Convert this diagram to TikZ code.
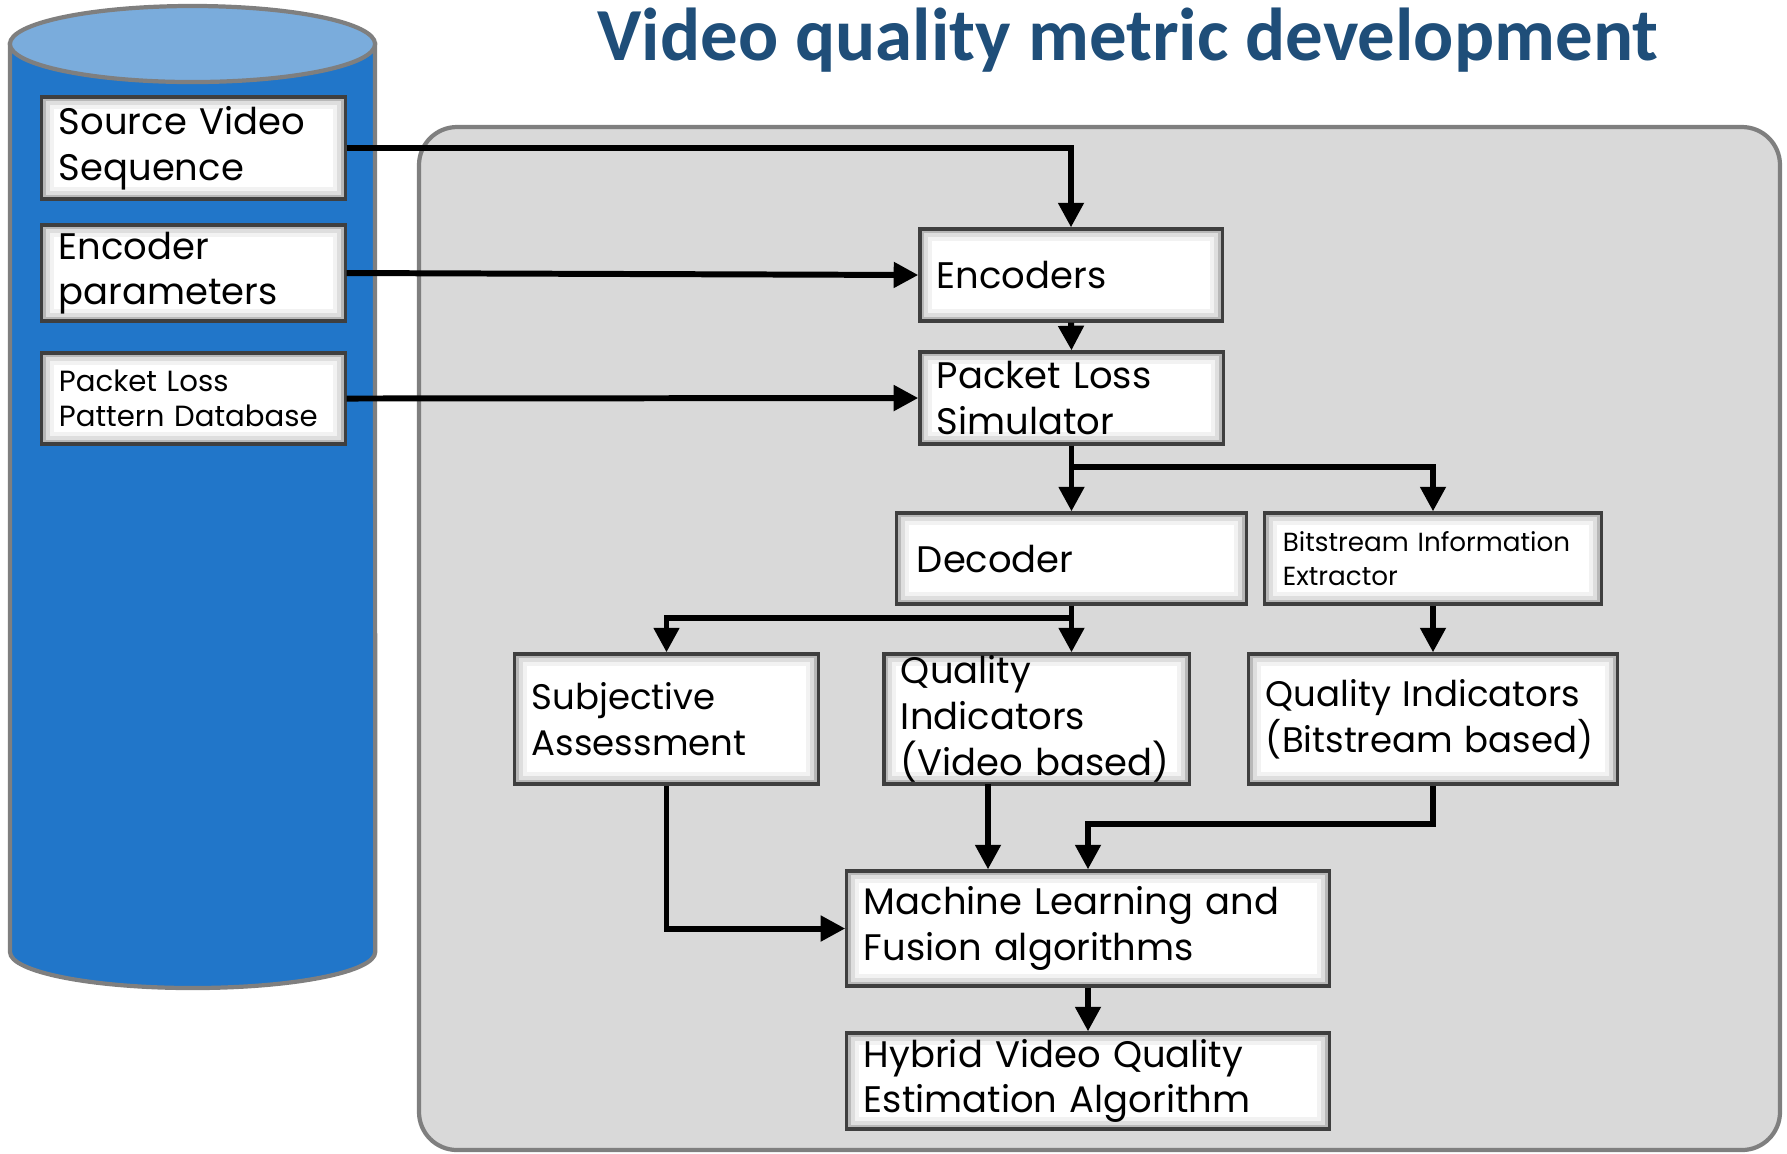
\documentclass[tikz,border=0pt]{standalone}
\usepackage{fontspec}
\newfontfamily\boxfont{Poppins}
\newfontfamily\titlefont{Carlito}
\usetikzlibrary{arrows.meta,calc}
\definecolor{cylside}{HTML}{2176C9}
\definecolor{cyltop}{HTML}{7AACDC}
\definecolor{cyledge}{HTML}{7F7F7F}
\definecolor{panel}{HTML}{D9D9D9}
\definecolor{paneledge}{HTML}{7F7F7F}
\definecolor{titleblue}{HTML}{1F4E79}
\definecolor{boxedge}{HTML}{3F3F3F}
\begin{document}
\begin{tikzpicture}[x=0.01cm,y=-0.01cm,
  box/.style={draw=boxedge, line width=0.9pt, fill=white, inner xsep=0pt, inner ysep=0pt,
    align=left, font=\boxfont\fontsize{10.5}{13}\selectfont,
    path picture={
      \draw[black!5, line width=7pt] (path picture bounding box.south west) rectangle (path picture bounding box.north east);
      \draw[black!13, line width=4.5pt] (path picture bounding box.south west) rectangle (path picture bounding box.north east);
      \draw[black!28, line width=2.2pt] (path picture bounding box.south west) rectangle (path picture bounding box.north east);
    }},
  arr/.style={line width=1.7pt, -{Triangle[length=7pt,width=7pt]}}
]
\useasboundingbox (0,0) rectangle (1787,1153);
% panel
\draw[fill=panel, draw=paneledge, line width=1.2pt, rounded corners=0.38cm] (419,127) rectangle (1780,1150);
% cylinder
\path[fill=cylside, draw=cyledge, line width=1.2pt] (10,44) -- (10,952) arc[start angle=180, end angle=360, x radius=1.825cm, y radius=0.36cm] -- (375,44) -- cycle;
\draw[fill=cyltop, draw=cyledge, line width=1.2pt] (192.5,44) ellipse [x radius=1.825cm, y radius=0.38cm];
% title
\node[font=\titlefont\bfseries\fontsize{21.3}{26}\selectfont, text=titleblue] (title) at (1128,40) {Video quality metric development};
% source boxes
\node[box, minimum width=3.03cm, minimum height=1.02cm, text width=2.69cm] (src) at (193.5,148) {\mbox{Source Video}\\\mbox{Sequence}};
\node[box, minimum width=3.03cm, minimum height=0.96cm, text width=2.69cm] (par) at (193.5,273) {\mbox{Encoder}\\\mbox{parameters}};
\node[box, minimum width=3.03cm, minimum height=0.91cm, text width=2.69cm, font=\boxfont\fontsize{8.3}{10}\selectfont] (pld) at (193.5,398.5) {\mbox{Packet Loss}\\\mbox{Pattern Database}};
% process boxes
\node[box, minimum width=3.02cm, minimum height=0.92cm, text width=2.68cm] (enc) at (1071,275) {\mbox{Encoders}};
\node[box, minimum width=3.03cm, minimum height=0.92cm, text width=2.69cm] (sim) at (1071.5,398) {\mbox{Packet Loss}\\\mbox{Simulator}};
\node[box, minimum width=3.49cm, minimum height=0.91cm, text width=3.09cm] (dec) at (1071.5,558.5) {\mbox{Decoder}};
\node[box, minimum width=3.36cm, minimum height=0.91cm, text width=3.00cm, font=\boxfont\fontsize{7.45}{9.6}\selectfont] (bie) at (1433,558.5) {\mbox{Bitstream Information}\\\mbox{Extractor}};
\node[box, minimum width=3.03cm, minimum height=1.30cm, text width=2.69cm, font=\boxfont\fontsize{10.1}{13}\selectfont] (subj) at (666.5,719) {\mbox{Subjective}\\\mbox{Assessment}};
\node[box, minimum width=3.05cm, minimum height=1.30cm, text width=2.71cm] (qiv) at (1036.5,719) {\mbox{Quality}\\\mbox{Indicators}\\\mbox{(Video based)}};
\node[box, minimum width=3.68cm, minimum height=1.30cm, text width=3.34cm, font=\boxfont\fontsize{10.1}{13}\selectfont] (qib) at (1433,719) {\mbox{Quality Indicators}\\\mbox{(Bitstream based)}};
\node[box, minimum width=4.82cm, minimum height=1.15cm, text width=4.48cm] (ml) at (1088,928.5) {\mbox{Machine Learning and}\\\mbox{Fusion algorithms}};
\node[box, minimum width=4.82cm, minimum height=0.96cm, text width=4.48cm] (hyb) at (1088,1081) {\mbox{Hybrid Video Quality}\\\mbox{Estimation Algorithm}};
% junction coordinates
\coordinate (jsim) at (1071.5,467);
\coordinate (jdec) at (1071.5,618);
\coordinate (jqib) at (1433,824);
\coordinate (qivout) at (988,784);
% connectors
\draw[arr] (src.east) -| (enc.north);
\draw[arr] (par.east) -- (enc.west);
\draw[arr] (pld.east) -- (sim.west);
\draw[arr] (enc.south) -- (sim.north);
\draw[arr] (sim.south) -- (dec.north);
\draw[arr] (sim.south) -- (jsim) -| (bie.north);
\draw[arr] (dec.south) -- (jdec) -| (subj.north);
\draw[arr] (dec.south) -- (dec.south |- qiv.north);
\draw[arr] (bie.south) -- (qib.north);
\draw[arr] (subj.south) |- (ml.west);
\draw[arr] (qivout) -- (qivout |- ml.north);
\draw[arr] (qib.south) -- (jqib) -| (ml.north);
\draw[arr] (ml.south) -- (hyb.north);
\end{tikzpicture}
\end{document}
